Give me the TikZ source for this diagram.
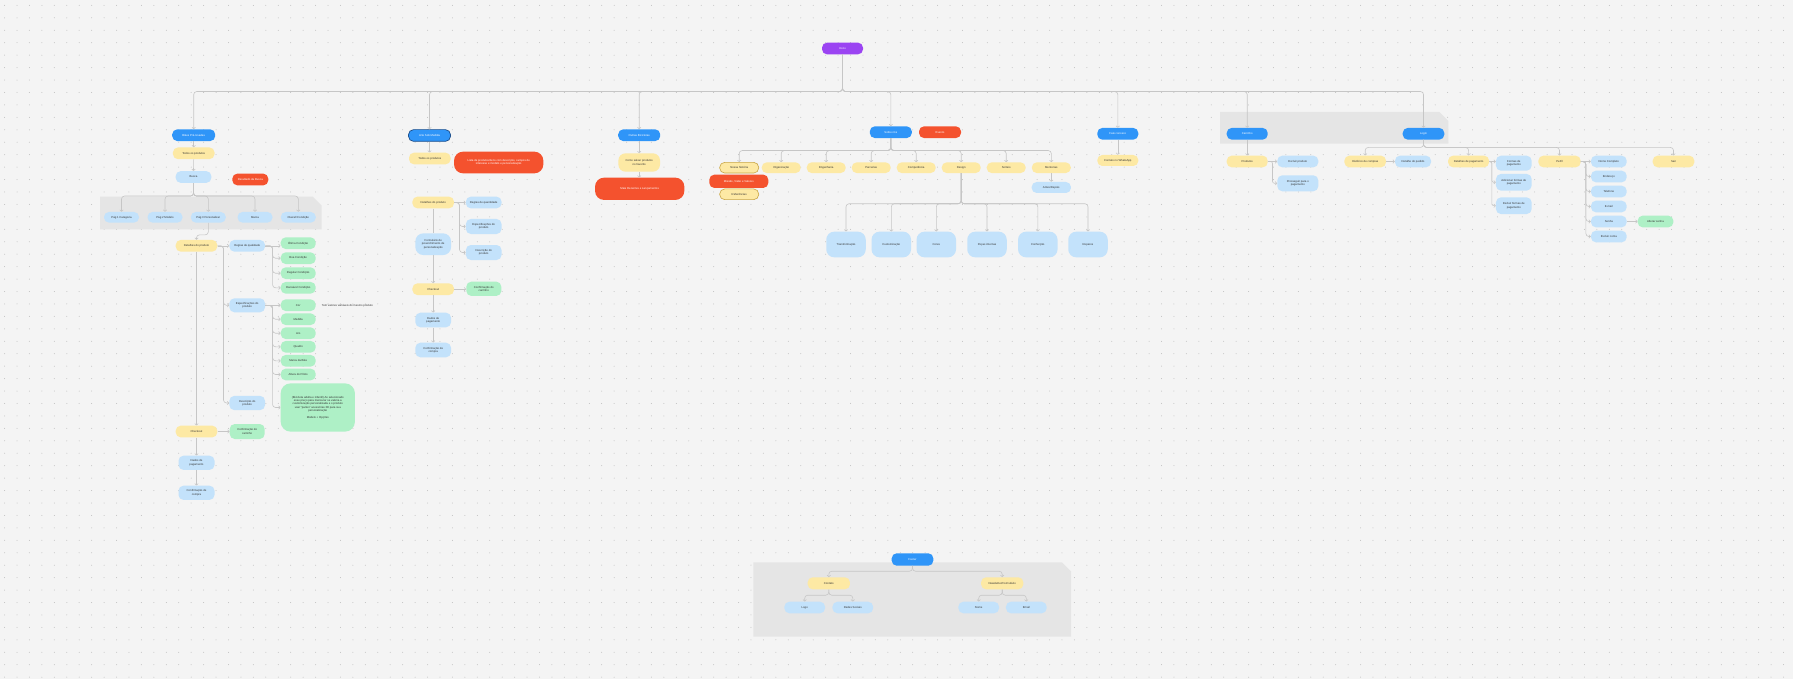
\documentclass[tikz,border=0pt]{standalone}
\usepackage{fontspec}
\setmainfont{Liberation Sans}
\usetikzlibrary{arrows.meta}

\definecolor{bgc}{HTML}{F4F4F4}
\definecolor{dotc}{HTML}{BEBEBE}
\definecolor{blueA}{HTML}{2F95F8}
\definecolor{blueD}{HTML}{1D4F8C}
\definecolor{blueL}{HTML}{C3E2FB}
\definecolor{yellowA}{HTML}{FDE9A4}
\definecolor{goldc}{HTML}{C9A646}
\definecolor{redA}{HTML}{F4522E}
\definecolor{greenA}{HTML}{AEF0C6}
\definecolor{purpleA}{HTML}{9B44F2}
\definecolor{panelc}{HTML}{E5E5E5}
\definecolor{linec}{HTML}{C6C6C6}
\definecolor{txt}{HTML}{333333}

\tikzset{
	box/.style={rectangle, rounded corners=5pt, inner sep=0pt, minimum height=11.7pt, align=center, text=txt, font=\fontsize{2.8}{3.4}\selectfont},
	rootbox/.style={box, fill=purpleA, text=white, minimum width=41pt},
	mainbox/.style={box, fill=blueA, text=white, minimum width=42pt},
	secbox/.style={box, fill=yellowA, minimum width=41.6pt},
	leafbox/.style={box, fill=blueL, minimum width=35.7pt},
	okbox/.style={box, fill=greenA, minimum width=35pt},
	alertbox/.style={box, fill=redA, text=white},
	blob/.style={box, fill=blueL, minimum width=39.5pt, minimum height=25.7pt, rounded corners=8pt},
	link/.style={draw=linec, line width=0.6pt, rounded corners=3pt, -{Straight Barb[length=1.5pt,width=3.5pt]}},
	plain/.style={draw=linec, line width=0.6pt},
	dotrow/.style={draw=dotc, line width=1pt, line cap=round, dash pattern=on 0pt off 12.44pt},
}

\begin{document}
\begin{tikzpicture}[x=1pt, y=-1pt]
	\fill[bgc] (0,0) rectangle (1793,679);
	\useasboundingbox (0,0) rectangle (1793,679);
	\foreach \r in {0,...,54}
		\draw[dotrow] (4.58,5.4+\r*12.44) -- (1793,5.4+\r*12.44);

	\fill[panelc] (100,196.7) -- (312.7,196.7) -- (321.7,205.7) -- (321.7,229.3) -- (100,229.3) -- cycle;
	\fill[panelc] (1220,112) -- (1439.3,112) -- (1448.3,121) -- (1448.3,143.7) -- (1220,143.7) -- cycle;
	\fill[panelc] (753.3,562.3) -- (1062,562.3) -- (1071,571.3) -- (1071,636.7) -- (753.3,636.7) -- cycle;

	\node[rootbox] (root) at (842.5,48.5) {Início};

	\node[mainbox, minimum width=43pt] (bikes) at (193.7,135.2) {Bikes Pré-Usadas};
	\node[secbox] (todos1) at (193.7,153.3) {Todos os produtos};
	\node[leafbox] (busca) at (193.5,177) {Busca};
	\node[alertbox, minimum width=36pt] (result) at (250.3,179.5) {Resultado da Busca};
	\node[leafbox, minimum width=35pt, minimum height=10.7pt] (pag1) at (121.5,217.3) {Pág 1 Categoria};
	\node[leafbox, minimum width=35pt, minimum height=10.7pt] (pag2) at (165,217.3) {Pág 2 Modelo};
	\node[leafbox, minimum width=35pt, minimum height=10.7pt] (pag3) at (208.3,217.3) {Pág 3 Personalizar};
	\node[leafbox, minimum width=35pt, minimum height=10.7pt] (marca) at (255,217.3) {Marca};
	\node[leafbox, minimum width=35pt, minimum height=10.7pt] (overall) at (298.3,217.3) {Overall Condição};
	\node[secbox] (det1) at (196.5,245.8) {Detalhes do produto};
	\node[leafbox] (regras1) at (247.2,245.8) {Regras de qualidade};
	\node[leafbox, minimum height=14pt] (spec1) at (247.2,305.3) {Especificações do\\produto};
	\node[leafbox, minimum height=14.3pt] (desc1) at (247.2,403) {Descrição do\\produto};
	\node[okbox] (c1) at (298.2,243.2) {Ótima Condição};
	\node[okbox] (c2) at (298.2,258.2) {Boa Condição};
	\node[okbox] (c3) at (298.2,273.2) {Regular Condição};
	\node[okbox] (c4) at (298.2,287.8) {Razoável Condição};
	\node[okbox] (s1) at (298.2,305.2) {Cor};
	\node[okbox] (s2) at (298.2,319.2) {Medida};
	\node[okbox] (s3) at (298.2,333.2) {Aro};
	\node[okbox] (s4) at (298.2,346.8) {Quadro};
	\node[okbox] (s5) at (298.2,360.8) {Marca da Bike};
	\node[okbox] (s6) at (298.2,374.5) {Altura do Piloto};
	\node[okbox, minimum width=74.3pt, minimum height=48.3pt, rounded corners=10pt] (bignote) at (317.8,407.5) {(Bicicleta adulta e infantil) Ao selecionado\\esse preço para mensurar se valeria a\\customização personalizada e o produto\\usar ``partes'' acessórias 3D para sua\\personalização\\[3.4pt]Modelo + Opções};
	\node[anchor=west, font=\fontsize{2.8}{3.4}\selectfont, text=txt, inner sep=0pt] (nota) at (321.7,305.5) {Tem valores variáveis do mesmo produto};
	\node[secbox] (chk1) at (196.5,431.5) {Checkout};
	\node[okbox, minimum height=15pt] (conf1) at (247.2,431.5) {Confirmação do\\carrinho};
	\node[leafbox, minimum width=36pt, minimum height=14.3pt] (dados1) at (196.5,462.8) {Dados de\\pagamento};
	\node[leafbox, minimum width=36pt, minimum height=14.3pt] (compra1) at (196.5,492.8) {Confirmação de\\compra};

	\node[mainbox, draw=blueD, line width=0.7pt] (arte) at (429.5,135.5) {Arte Sob Medida};
	\node[secbox] (todos2) at (429.8,158.5) {Todos os produtos};
	\node[alertbox, minimum width=89.3pt, minimum height=21.7pt, rounded corners=9pt] (lista) at (498.7,162.5) {Lista de produtos/itens com descrição, campos de\\interesse e modelo e personalização};
	\node[secbox] (det2) at (433.2,202.5) {Detalhes do produto};
	\node[leafbox] (regras2) at (483.7,202.5) {Regras de quantidade};
	\node[leafbox, minimum height=15pt] (spec2) at (483.7,226.5) {Especificações do\\produto};
	\node[leafbox, minimum height=15pt] (desc2) at (483.7,252.5) {Descrição do\\produto};
	\node[leafbox, minimum height=21.7pt, rounded corners=8pt] (form) at (433.2,244.2) {Formulário de\\preenchimento de\\personalização};
	\node[secbox] (chk2) at (433.2,289.2) {Checkout};
	\node[okbox, minimum height=14.3pt] (conf2) at (483.8,288.8) {Confirmação do\\carrinho};
	\node[leafbox, minimum height=14.6pt] (dados2) at (433.2,320) {Dados de\\pagamento};
	\node[leafbox, minimum height=14.6pt] (compra2) at (433.2,350) {Confirmação de\\compra};

	\node[mainbox] (outras) at (639.2,135.2) {Outras Bicicletas};
	\node[secbox, minimum height=18.3pt, rounded corners=7pt] (favorito) at (639.2,162.5) {Como salvar produtos\\no favorito};
	\node[alertbox, minimum width=89.3pt, minimum height=22.3pt, rounded corners=9pt] (recentes) at (639.7,188.8) {Mais Recentes e Lançamentos};

	\node[mainbox] (sobre) at (890.8,132.2) {Sobre nós};
	\node[alertbox, minimum width=42pt] (evento) at (940,132.2) {Evento};
	\node[secbox, minimum width=39pt, minimum height=10.7pt, draw=goldc, line width=0.6pt] (historia) at (739.2,167.7) {Nossa história};
	\node[secbox, minimum width=39pt, minimum height=10.7pt] (org) at (781.2,167.7) {Organização};
	\node[secbox, minimum width=39pt, minimum height=10.7pt] (eng) at (826.2,167.7) {Engenharia};
	\node[secbox, minimum width=39pt, minimum height=10.7pt] (parc) at (871.2,167.7) {Parcerias};
	\node[secbox, minimum width=39pt, minimum height=10.7pt] (comp) at (916.2,167.7) {Competência};
	\node[secbox, minimum width=39pt, minimum height=10.7pt] (design) at (961.2,167.7) {Design};
	\node[secbox, minimum width=39pt, minimum height=10.7pt] (sorteio) at (1006.2,167.7) {Sorteio};
	\node[secbox, minimum width=39pt, minimum height=10.7pt] (mentor) at (1051.3,167.7) {Mentorias};
	\node[alertbox, minimum width=59pt, minimum height=13.3pt] (missao) at (738.8,181.3) {Missão, Visão e Valores};
	\node[secbox, minimum width=39pt, minimum height=10.7pt, draw=goldc, line width=0.6pt] (refs) at (739.2,194.3) {Referências};
	\node[leafbox, minimum width=39.3pt, minimum height=11pt] (antes) at (1051.3,187.5) {Antes/Depois};
	\node[blob] (transf) at (846,244.5) {Transformação};
	\node[blob] (custom) at (891.3,244.5) {Customização};
	\node[blob] (cores) at (936.3,244.5) {Cores};
	\node[blob] (pecas) at (987,244.5) {Peças internas};
	\node[blob] (confec) at (1037.8,244.5) {Confecção};
	\node[blob] (reparos) at (1088,244.5) {Reparos};

	\node[mainbox, minimum width=41pt] (fale) at (1117.8,133.8) {Fale conosco};
	\node[secbox, minimum width=41pt, minimum height=11pt] (whats) at (1117.8,160.5) {Contato no WhatsApp};

	\node[mainbox, minimum width=41pt] (carrinho) at (1247.2,133.8) {Carrinho};
	\node[secbox, minimum width=41pt] (produtos) at (1247.2,161.5) {Produtos};
	\node[leafbox, minimum width=41pt] (excluir) at (1297.8,161.5) {Excluir produto};
	\node[leafbox, minimum width=41pt, minimum height=16pt] (prosseguir) at (1297.8,183.3) {Prosseguir para o\\pagamento};

	\node[mainbox, minimum width=41.6pt] (login) at (1423.5,133.8) {Login};
	\node[secbox] (hist) at (1365.2,161.5) {Histórico de compras};
	\node[leafbox, minimum width=36pt] (pedido) at (1413,161.5) {Detalhe do pedido};
	\node[secbox, minimum width=41pt] (dpag) at (1468.6,161.5) {Detalhes de pagamento};
	\node[leafbox, minimum height=15pt] (formas) at (1513.8,163.2) {Formas de\\pagamento};
	\node[leafbox, minimum height=16.7pt] (addf) at (1513.8,182.3) {Adicionar formas de\\pagamento};
	\node[leafbox, minimum height=16.7pt] (excf) at (1513.8,205.7) {Excluir formas de\\pagamento};
	\node[secbox, minimum width=42.3pt] (perfil) at (1559.5,161.5) {Perfil};
	\node[leafbox] (nome) at (1608.8,161.5) {Nome Completo};
	\node[leafbox] (endereco) at (1608.8,176.5) {Endereço};
	\node[leafbox] (telefone) at (1608.8,191.5) {Telefone};
	\node[leafbox] (mail) at (1608.8,206.5) {E-mail};
	\node[leafbox] (senha) at (1608.8,221.5) {Senha};
	\node[leafbox] (conta) at (1608.8,236.5) {Excluir conta};
	\node[okbox, minimum width=35.7pt] (alterar) at (1655.5,221.5) {Alterar senha};
	\node[secbox] (sair) at (1673.5,161.5) {Sair};

	\node[mainbox, minimum width=41.6pt, minimum height=12.4pt] (footer) at (912.5,559.5) {Footer};
	\node[secbox, minimum width=42.3pt, minimum height=12pt] (contato) at (828.8,583.3) {Contato};
	\node[secbox, minimum width=42.3pt, minimum height=12pt] (news) at (1002.2,583.3) {Newsletter/Formulário};
	\node[leafbox, minimum width=40.7pt, minimum height=11.6pt] (logo) at (804.7,607.5) {Logo};
	\node[leafbox, minimum width=40.7pt, minimum height=11.6pt] (redes) at (852.8,607.5) {Redes Sociais};
	\node[leafbox, minimum width=40.7pt, minimum height=11.6pt] (nome2) at (978.7,607.5) {Nome};
	\node[leafbox, minimum width=40.7pt, minimum height=11.6pt] (email) at (1026.3,607.5) {Email};

	\draw[link] (root.south) -- ++(0,37) -| (bikes.north);
	\draw[link] (root.south) -- ++(0,37) -| (arte.north);
	\draw[link] (root.south) -- ++(0,37) -| (outras.north);
	\draw[link] (root.south) -- ++(0,37) -| (sobre.north);
	\draw[link] (root.south) -- ++(0,37) -| (fale.north);
	\draw[link] (root.south) -- ++(0,37) -| (carrinho.north);
	\draw[link] (root.south) -- ++(0,37) -| (login.north);

	\draw[link] (bikes.south) -- (todos1.north);
	\draw[link] (todos1.south) -- (busca.north);
	\draw[link] (busca.south) -- ++(0,13) -| (pag1.north);
	\draw[link] (busca.south) -- ++(0,13) -| (pag2.north);
	\draw[link] (busca.south) -- ++(0,13) -| (pag3.north);
	\draw[link] (busca.south) -- ++(0,13) -| (marca.north);
	\draw[link] (busca.south) -- ++(0,13) -| (overall.north);
	\draw[link] (pag3.south) -- ++(0,12) -| (det1.north);
	\draw[link] (det1.east) -- (regras1.west);
	\draw[link] (det1.east) -- ++(6,0) |- (spec1.west);
	\draw[link] (det1.east) -- ++(6,0) |- (desc1.west);
	\draw[link] (regras1.east) -- (regras1.east -| c1.west);
	\draw[link] (regras1.east) -- ++(7.3,0) |- (c2.west);
	\draw[link] (regras1.east) -- ++(7.3,0) |- (c3.west);
	\draw[link] (regras1.east) -- ++(7.3,0) |- (c4.west);
	\draw[link] (spec1.east) -- (spec1.east -| s1.west);
	\draw[link] (spec1.east) -- ++(7.3,0) |- (s2.west);
	\draw[link] (spec1.east) -- ++(7.3,0) |- (s3.west);
	\draw[link] (spec1.east) -- ++(7.3,0) |- (s4.west);
	\draw[link] (spec1.east) -- ++(7.3,0) |- (s5.west);
	\draw[link] (spec1.east) -- ++(7.3,0) |- (s6.west);
	\draw[link] (spec1.east) -- ++(7.3,0) |- (bignote.west);
	\draw[link] (det1.south) -- (chk1.north);
	\draw[link] (chk1.east) -- (conf1.west);
	\draw[link] (chk1.south) -- (dados1.north);
	\draw[link] (dados1.south) -- (compra1.north);

	\draw[link] (arte.south) -- (arte.south |- todos2.north);
	\draw[link] (det2.east) -- (regras2.west);
	\draw[link] (det2.east) -- ++(5.3,0) |- (spec2.west);
	\draw[link] (det2.east) -- ++(5.3,0) |- (desc2.west);
	\draw[plain] (det2.south) -- (form.north);
	\draw[link] (form.south) -- (chk2.north);
	\draw[link] (chk2.east) -- (chk2.east -| conf2.west);
	\draw[link] (chk2.south) -- (dados2.north);
	\draw[link] (dados2.south) -- (compra2.north);

	\draw[link] (outras.south) -- (favorito.north);
	\draw[link] (favorito.south) -- (favorito.south |- recentes.north);

	\draw[link] (sobre.south) -- ++(0,12.3) -| (historia.north);
	\draw[link] (sobre.south) -- ++(0,12.3) -| (org.north);
	\draw[link] (sobre.south) -- ++(0,12.3) -| (eng.north);
	\draw[link] (sobre.south) -- ++(0,12.3) -| (parc.north);
	\draw[link] (sobre.south) -- ++(0,12.3) -| (comp.north);
	\draw[link] (sobre.south) -- ++(0,12.3) -| (design.north);
	\draw[link] (sobre.south) -- ++(0,12.3) -| (sorteio.north);
	\draw[link] (sobre.south) -- ++(0,12.3) -| (mentor.north);
	\draw[link] (mentor.south) -- (antes.north);
	\draw[link] (design.south) -- ++(0,30.5) -| (transf.north);
	\draw[link] (design.south) -- ++(0,30.5) -| (custom.north);
	\draw[link] (design.south) -- ++(0,30.5) -| (cores.north);
	\draw[link] (design.south) -- ++(0,30.5) -| (pecas.north);
	\draw[link] (design.south) -- ++(0,30.5) -| (confec.north);
	\draw[link] (design.south) -- ++(0,30.5) -| (reparos.north);

	\draw[link] (fale.south) -- (whats.north);

	\draw[link] (carrinho.south) -- (produtos.north);
	\draw[link] (produtos.east) -- (excluir.west);
	\draw[link, rounded corners=2pt] (produtos.east) -- ++(4.6,0) |- (prosseguir.west);

	\draw[link] (login.south) -- ++(0,7.6) -| (hist.north);
	\draw[link] (login.south) -- ++(0,7.6) -| (dpag.north);
	\draw[link] (login.south) -- ++(0,7.6) -| (perfil.north);
	\draw[link] (login.south) -- ++(0,7.6) -| (sair.north);
	\draw[link] (hist.east) -- (pedido.west);
	\draw[link] (dpag.east) -- (dpag.east -| formas.west);
	\draw[link, rounded corners=1.5pt] (dpag.east) -- ++(2.5,0) |- (addf.west);
	\draw[link, rounded corners=1.5pt] (dpag.east) -- ++(2.5,0) |- (excf.west);
	\draw[link] (perfil.east) -- (nome.west);
	\draw[link] (perfil.east) -- ++(5,0) |- (endereco.west);
	\draw[link] (perfil.east) -- ++(5,0) |- (telefone.west);
	\draw[link] (perfil.east) -- ++(5,0) |- (mail.west);
	\draw[link] (perfil.east) -- ++(5,0) |- (senha.west);
	\draw[link] (perfil.east) -- ++(5,0) |- (conta.west);
	\draw[link] (senha.east) -- (alterar.west);

	\draw[link] (footer.south) -- ++(0,5.3) -| (contato.north);
	\draw[link] (footer.south) -- ++(0,5.3) -| (news.north);
	\draw[link] (contato.south) -- ++(0,5.7) -| (logo.north);
	\draw[link] (contato.south) -- ++(0,5.7) -| (redes.north);
	\draw[link] (news.south) -- ++(0,5.7) -| (nome2.north);
	\draw[link] (news.south) -- ++(0,5.7) -| (email.north);
\end{tikzpicture}
\end{document}
